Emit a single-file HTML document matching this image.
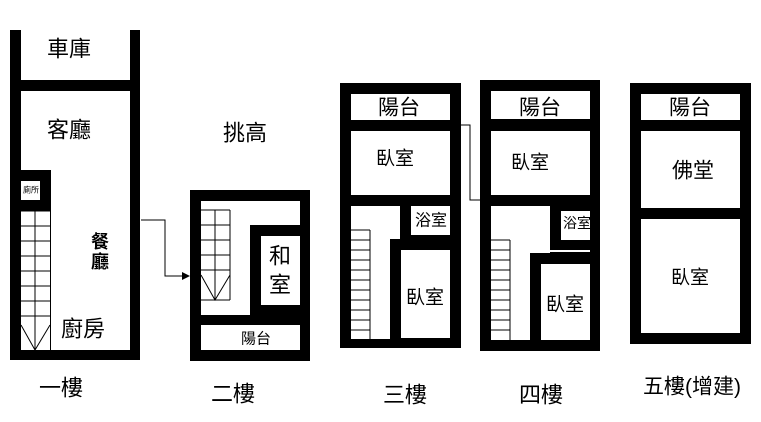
<!DOCTYPE html>
<html><head><meta charset="utf-8"><style>
html,body{margin:0;padding:0;background:#fff;}
svg{display:block;}
text{font-family:"Liberation Sans","Noto Sans CJK TC",sans-serif;fill:#000;text-anchor:middle;dominant-baseline:central;}
</style></head><body>
<svg width="761" height="422" viewBox="0 0 761 422" xmlns="http://www.w3.org/2000/svg">
<!-- Floor 1 -->
<rect x="10" y="30" width="130" height="330" fill="#000"/>
<rect x="21" y="30" width="109" height="50" fill="#fff"/>
<rect x="21" y="91" width="109" height="259" fill="#fff"/>
<rect x="21" y="170" width="30" height="41" fill="#000"/>
<rect x="21" y="181" width="19" height="19" fill="#fff"/>
<g stroke="#000" stroke-width="1" fill="none">
<line x1="21" y1="211" x2="51" y2="211"/>
<line x1="35" y1="211" x2="35" y2="350"/>
<line x1="50.5" y1="211" x2="50.5" y2="350"/>
<line x1="21" y1="226" x2="50" y2="226"/><line x1="21" y1="241" x2="50" y2="241"/>
<line x1="21" y1="256" x2="50" y2="256"/><line x1="21" y1="271" x2="50" y2="271"/>
<line x1="21" y1="286" x2="50" y2="286"/><line x1="21" y1="301" x2="50" y2="301"/>
<line x1="21" y1="316" x2="50" y2="316"/>
<polyline points="21,325 35,350 50,325"/>
</g>
<text x="69" y="49" font-size="22">車庫</text>
<text x="69" y="130" font-size="22">客廳</text>
<text x="100" y="242" font-size="18" font-weight="bold">餐</text>
<text x="100" y="262" font-size="18" font-weight="bold">廳</text>
<text x="83" y="329" font-size="22">廚房</text>
<text x="31" y="190" font-size="8">廁所</text>
<text x="245" y="133" font-size="22">挑高</text>
<!-- arrow -->
<polyline points="141,220 165,220 165,276 184,276" fill="none" stroke="#000" stroke-width="1"/>
<polygon points="190,276 182,272 182,280" fill="#000"/>
<!-- Floor 2 -->
<rect x="190" y="190" width="120" height="171" fill="#000"/>
<rect x="201" y="201" width="99" height="114" fill="#fff"/>
<rect x="250" y="225" width="60" height="100" fill="#000"/>
<rect x="261" y="236" width="39" height="69" fill="#fff"/>
<rect x="201" y="325" width="99" height="25" fill="#fff"/>
<g stroke="#000" stroke-width="1" fill="none">
<line x1="201" y1="210" x2="230" y2="210"/>
<line x1="215" y1="210" x2="215" y2="300"/>
<line x1="230" y1="210" x2="230" y2="300"/>
<line x1="201" y1="225" x2="230" y2="225"/><line x1="201" y1="240" x2="230" y2="240"/>
<line x1="201" y1="255" x2="230" y2="255"/><line x1="201" y1="270" x2="230" y2="270"/>
<line x1="201" y1="300" x2="230" y2="300"/>
<polyline points="201,275 215,300 230,275"/>
</g>
<text x="280" y="256" font-size="22">和</text>
<text x="280" y="285" font-size="22">室</text>
<text x="256" y="339" font-size="15">陽台</text>
<!-- Floor 3 -->
<rect x="340" y="83" width="121" height="265" fill="#000"/>
<rect x="351" y="94" width="99" height="26" fill="#fff"/>
<rect x="351" y="131" width="99" height="64" fill="#fff"/>
<rect x="351" y="206" width="49" height="33" fill="#fff"/>
<rect x="351" y="239" width="39" height="100" fill="#fff"/>
<rect x="411" y="206" width="39" height="29" fill="#fff"/>
<rect x="401" y="250" width="49" height="88" fill="#fff"/>
<g stroke="#000" stroke-width="1" fill="none">
<line x1="370" y1="230" x2="370" y2="339"/>
<line x1="351" y1="230" x2="370" y2="230"/><line x1="351" y1="240" x2="370" y2="240"/>
<line x1="351" y1="250" x2="370" y2="250"/><line x1="351" y1="260" x2="370" y2="260"/>
<line x1="351" y1="270" x2="370" y2="270"/><line x1="351" y1="280" x2="370" y2="280"/>
<line x1="351" y1="290" x2="370" y2="290"/><line x1="351" y1="300" x2="370" y2="300"/>
<line x1="351" y1="310" x2="370" y2="310"/><line x1="351" y1="320" x2="370" y2="320"/>
<line x1="351" y1="330" x2="370" y2="330"/>
<polyline points="461,125 470,125 470,200 480,200"/>
</g>
<text x="399" y="108" font-size="21">陽台</text>
<text x="395" y="159" font-size="19">臥室</text>
<text x="431" y="221" font-size="16">浴室</text>
<text x="425" y="298" font-size="19">臥室</text>
<!-- Floor 4 -->
<rect x="480" y="80" width="120" height="271" fill="#000"/>
<rect x="491" y="91" width="99" height="28" fill="#fff"/>
<rect x="491" y="131" width="99" height="64" fill="#fff"/>
<rect x="491" y="206" width="59" height="47" fill="#fff"/>
<rect x="491" y="253" width="39" height="87" fill="#fff"/>
<rect x="561" y="211" width="29" height="29" fill="#fff"/>
<rect x="550" y="250" width="40" height="2" fill="#fff"/>
<rect x="541" y="264" width="49" height="76" fill="#fff"/>
<g stroke="#000" stroke-width="1" fill="none">
<line x1="510" y1="240" x2="510" y2="340"/>
<line x1="491" y1="240" x2="510" y2="240"/><line x1="491" y1="250" x2="510" y2="250"/>
<line x1="491" y1="260" x2="510" y2="260"/><line x1="491" y1="270" x2="510" y2="270"/>
<line x1="491" y1="280" x2="510" y2="280"/><line x1="491" y1="290" x2="510" y2="290"/>
<line x1="491" y1="300" x2="510" y2="300"/><line x1="491" y1="310" x2="510" y2="310"/>
<line x1="491" y1="320" x2="510" y2="320"/><line x1="491" y1="330" x2="510" y2="330"/>
</g>
<text x="540" y="108" font-size="21">陽台</text>
<text x="530" y="163" font-size="19">臥室</text>
<text x="577" y="223" font-size="14">浴室</text>
<text x="565" y="305" font-size="19">臥室</text>
<!-- Floor 5 -->
<rect x="630" y="83" width="121" height="261" fill="#000"/>
<rect x="641" y="94" width="99" height="26" fill="#fff"/>
<rect x="641" y="131" width="99" height="77" fill="#fff"/>
<rect x="641" y="219" width="99" height="114" fill="#fff"/>
<text x="690" y="108" font-size="21">陽台</text>
<text x="693" y="171" font-size="21">佛堂</text>
<text x="690" y="278" font-size="19">臥室</text>
<!-- labels -->
<text x="61" y="388" font-size="22">一樓</text>
<text x="233" y="394" font-size="22">二樓</text>
<text x="405" y="395" font-size="22">三樓</text>
<text x="541" y="395" font-size="22">四樓</text>
<text x="692" y="387" font-size="21">五樓(增建)</text>
</svg>
</body></html>
